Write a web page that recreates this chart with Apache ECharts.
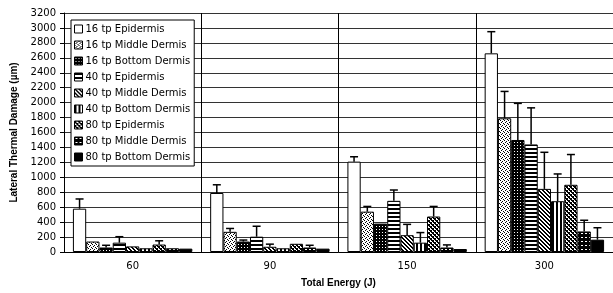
<!DOCTYPE html>
<html>
<head>
<meta charset="utf-8">
<script src="https://cdn.jsdelivr.net/npm/echarts@6/dist/echarts.min.js"></script>
<style>
  html, body { margin: 0; padding: 0; background: #fff; }
  #chart { width: 613px; height: 293px; }
</style>
</head>
<body>
<div id="chart"></div>
<script>
  // categories and tick labels
  var energies = ['60', '90', '150', '300'];
  var seriesNames = [
    '16 tp Epidermis', '16 tp Middle Dermis', '16 tp Bottom Dermis',
    '40 tp Epidermis', '40 tp Middle Dermis', '40 tp Bottom Dermis',
    '80 tp Epidermis', '80 tp Middle Dermis', '80 tp Bottom Dermis'
  ];

  // mean lateral thermal damage (um), one array per series, order = energies
  var tp16Epi = [580, 790, 1210, 2660];
  var tp16Mid = [140, 270, 540, 1790];
  var tp16Bot = [60, 140, 380, 1500];
  var tp40Epi = [125, 205, 685, 1440];
  var tp40Mid = [75, 70, 225, 845];
  var tp40Bot = [50, 50, 125, 680];
  var tp80Epi = [100, 110, 475, 900];
  var tp80Mid = [50, 60, 60, 275];
  var tp80Bot = [45, 45, 40, 165];

  // error bar (upper) sizes
  var err16Epi = [130, 110, 65, 290];
  var err16Mid = [0, 45, 70, 360];
  var err16Bot = [30, 20, 0, 490];
  var err40Epi = [80, 140, 145, 490];
  var err40Mid = [0, 35, 145, 490];
  var err40Bot = [0, 0, 135, 365];
  var err80Epi = [50, 0, 135, 405];
  var err80Mid = [0, 30, 35, 150];
  var err80Bot = [0, 0, 0, 160];

  var yTicks = { min: 0, max: 3200, step: 200 };

  var means = [tp16Epi, tp16Mid, tp16Bot, tp40Epi, tp40Mid, tp40Bot, tp80Epi, tp80Mid, tp80Bot];
  var errs = [err16Epi, err16Mid, err16Bot, err40Epi, err40Mid, err40Bot, err80Epi, err80Mid, err80Bot];

  // small pixel patterns for the fills
  function pattern(size, cells, bg) {
    var c = document.createElement('canvas');
    c.width = size; c.height = size;
    var g = c.getContext('2d');
    g.fillStyle = bg; g.fillRect(0, 0, size, size);
    g.fillStyle = bg === '#000' ? '#fff' : '#000';
    cells.forEach(function (p) { g.fillRect(p[0], p[1], 1, 1); });
    return { image: c, repeat: 'repeat' };
  }
  var fills = [
    '#fff',
    pattern(4, [[0,0],[2,1],[1,2],[3,3]], '#fff'),
    pattern(3, [[1,1]], '#000'),
    pattern(4, [[0,0],[1,0],[2,0],[3,0],[0,1],[1,1],[2,1],[3,1]], '#fff'),
    pattern(4, [[0,0],[1,1],[2,2],[3,3],[1,0],[2,1],[3,2],[0,3]], '#fff'),
    pattern(4, [[0,0],[0,1],[0,2],[0,3],[1,0],[1,1],[1,2],[1,3]], '#fff'),
    pattern(4, [[0,0],[1,0],[0,1],[1,1],[2,2],[3,2],[2,3],[3,3],[1,2],[3,0]], '#fff'),
    pattern(4, [[1,1],[2,1]], '#000'),
    '#000'
  ];

  var gapPct = 0.13;

  var series = seriesNames.map(function (name, i) {
    return {
      name: name,
      type: 'bar',
      data: means[i],
      barGap: 0,
      barCategoryGap: (gapPct * 100) + '%',
      itemStyle: { color: fills[i], borderColor: '#000', borderWidth: 1 }
    };
  });

  var errData = [];
  errs.forEach(function (arr, s) {
    arr.forEach(function (e, c) {
      if (e > 0) errData.push([c, s, means[s][c], e]);
    });
  });

  series.push({
    type: 'custom',
    z: 5,
    data: errData,
    encode: { x: 0, y: 2 },
    renderItem: function (params, api) {
      var cat = api.value(0), s = api.value(1), v = api.value(2), e = api.value(3);
      var base = api.coord([cat, v]);
      var top = api.coord([cat, v + e]);
      var band = api.size([1, 0])[0];
      var groupW = band * (1 - gapPct);
      var bw = groupW / 9;
      var x = base[0] - groupW / 2 + (s + 0.5) * bw;
      return {
        type: 'group',
        children: [
          { type: 'line', shape: { x1: x, y1: base[1], x2: x, y2: top[1] }, style: { stroke: '#000', lineWidth: 1.5 } },
          { type: 'line', shape: { x1: x - 4, y1: top[1], x2: x + 4, y2: top[1] }, style: { stroke: '#000', lineWidth: 1.5 } }
        ]
      };
    }
  });

  var chart = echarts.init(document.getElementById('chart'), null, { renderer: 'canvas' });
  chart.setOption({
    animation: false,
    textStyle: { fontFamily: 'DejaVu Sans', color: '#000' },
    grid: { left: 64, top: 13, width: 551, height: 242 },
    legend: {
      data: seriesNames,
      orient: 'vertical',
      left: 71,
      top: 20,
      padding: [3, 4, 3, 3],
      itemGap: 4,
      itemWidth: 8,
      itemHeight: 8,
      icon: 'rect',
      backgroundColor: '#fff',
      borderColor: '#000',
      borderWidth: 1,
      borderRadius: 0,
      selectedMode: false,
      itemStyle: { borderColor: '#000', borderWidth: 1 },
      textStyle: { fontSize: 10, lineHeight: 12, color: '#000', padding: [0, 0, 0, -2] }
    },
    xAxis: {
      type: 'category',
      data: energies,
      name: 'Total Energy (J)',
      nameLocation: 'middle',
      nameGap: 26,
      nameTextStyle: { fontFamily: 'Liberation Sans', fontSize: 10, fontWeight: 'bold', color: '#000' },
      axisLine: { lineStyle: { color: '#000', width: 1 } },
      axisTick: { length: 5, lineStyle: { color: '#000' } },
      axisLabel: { fontSize: 10, color: '#000', margin: 9 },
      splitLine: { show: true, lineStyle: { color: '#000', width: 1 } }
    },
    yAxis: {
      type: 'value',
      min: yTicks.min,
      max: yTicks.max,
      interval: yTicks.step,
      name: 'Lateral Thermal Damage (µm)',
      nameLocation: 'middle',
      nameGap: 40,
      nameTextStyle: { fontFamily: 'Liberation Sans', fontSize: 10, fontWeight: 'bold', color: '#000' },
      axisLine: { show: true, lineStyle: { color: '#000', width: 1 } },
      axisTick: { show: true, length: 4, lineStyle: { color: '#000' } },
      axisLabel: { fontSize: 10, color: '#000', margin: 8, formatter: function (v) { return String(v); } },
      splitLine: { show: true, lineStyle: { color: '#333', width: 1 } }
    },
    series: series
  });
</script>
</body>
</html>
